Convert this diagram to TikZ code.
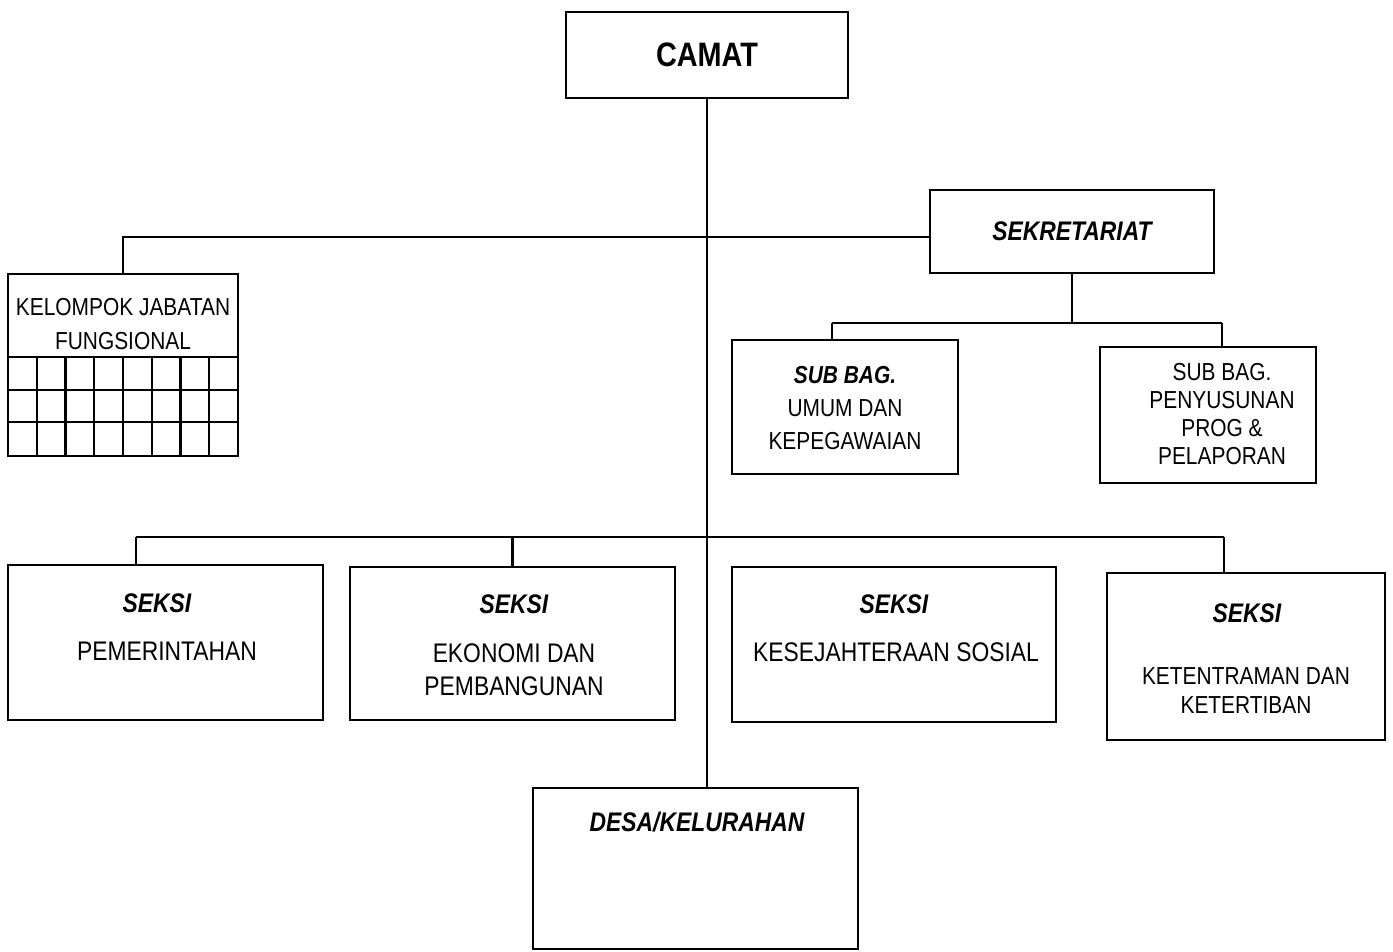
\documentclass[tikz,border=0pt]{standalone}
\usepackage{fontspec}
\setmainfont{Liberation Sans}[FakeStretch=0.85]
\begin{document}
\begin{tikzpicture}[x=0.02cm,y=-0.02cm,
  kotak/.style={draw,line width=1.6pt,inner sep=0pt,outer sep=0pt},
  garis/.style={line width=1.3pt},
  teks/.style={font=\fontsize{15.3}{18.8}\selectfont,align=center,inner sep=0pt},
  kecil/.style={font=\fontsize{14}{18.8}\selectfont,align=center,inner sep=0pt},
  judul/.style={font=\fontsize{15.3}{18.8}\selectfont\bfseries\itshape,inner sep=0pt}]
\useasboundingbox (0,0) rectangle (1393,952);
% kotak
\node[kotak,minimum width=5.64cm,minimum height=1.72cm,
  font=\fontsize{19.3}{23}\selectfont\bfseries] (camat) at (707,55) {CAMAT};
\node[kotak,judul,minimum width=5.68cm,minimum height=1.66cm] (sekr) at (1072,231.5) {SEKRETARIAT};
\node[kotak,minimum width=4.6cm,minimum height=3.64cm] (kjf) at (123,365) {};
\node[kotak,minimum width=4.52cm,minimum height=2.68cm] (umum) at (845,407) {};
\node[kotak,minimum width=4.32cm,minimum height=2.72cm] (prog) at (1208,415) {};
\node[kotak,minimum width=6.3cm,minimum height=3.1cm] (pem) at (165.5,642.5) {};
\node[kotak,minimum width=6.5cm,minimum height=3.06cm] (eko) at (512.5,643.5) {};
\node[kotak,minimum width=6.48cm,minimum height=3.1cm] (kesra) at (894,644.5) {};
\node[kotak,minimum width=5.56cm,minimum height=3.34cm] (trantib) at (1246,656.5) {};
\node[kotak,minimum width=6.5cm,minimum height=3.22cm] (desa) at (695.5,868.5) {};
% teks
\node[kecil,font=\fontsize{14}{19.3}\selectfont] (kjf-t) at (123,324) {KELOMPOK JABATAN\\FUNGSIONAL};
\node[kecil] (umum-t) at (845,408)
  {\textbf{\textit{SUB BAG.}}\\UMUM DAN\\KEPEGAWAIAN};
\node[kecil,font=\fontsize{14}{15.9}\selectfont] (prog-t) at (1222,414)
  {SUB BAG.\\PENYUSUNAN\\PROG \&\\PELAPORAN};
\node[judul] (pem-s) at (157,603) {SEKSI};
\node[teks] (pem-t) at (167,651) {PEMERINTAHAN};
\node[judul] (eko-s) at (514,604) {SEKSI};
\node[teks] (eko-t) at (514,669.5) {EKONOMI DAN\\PEMBANGUNAN};
\node[judul] (kesra-s) at (894,604) {SEKSI};
\node[teks] (kesra-t) at (896,652) {KESEJAHTERAAN SOSIAL};
\node[judul] (trantib-s) at (1247,613) {SEKSI};
\node[kecil,font=\fontsize{14}{16.5}\selectfont] (trantib-t) at (1246,690.5) {KETENTRAMAN DAN\\KETERTIBAN};
\node[judul] (desa-t) at (697,822) {DESA/KELURAHAN};
% kisi kelompok jabatan
\foreach \y in {357,390,422}
  \draw[garis] (kjf.west |- 0,\y) -- (kjf.east |- 0,\y);
\foreach \i in {1,...,7}
  \draw[garis] (8+\i*28.75,357) -- (8+\i*28.75,456);
% garis
\coordinate (sbL) at (832,323);
\coordinate (sbR) at (1222,323);
\coordinate (barL) at (136,537);
\coordinate (barR) at (1224,537);
\draw[garis] (camat.south) -- (camat.south |- desa.north);
\draw[garis] (kjf.north) |- ([yshift=-0.11cm]sekr.west);
\draw[garis] (sekr.south) -- (sekr.south |- sbL);
\draw[garis] (sbL) -- (sbR);
\draw[garis] (sbL) -- (sbL |- umum.north);
\draw[garis] (sbR) -- (sbR |- prog.north);
\draw[garis] (barL) -- (barR);
\draw[garis] (barL) -- (barL |- pem.north);
\draw[garis] (eko.north |- barL) -- (eko.north);
\draw[garis] (barR) -- (barR |- trantib.north);
\end{tikzpicture}
\end{document}
